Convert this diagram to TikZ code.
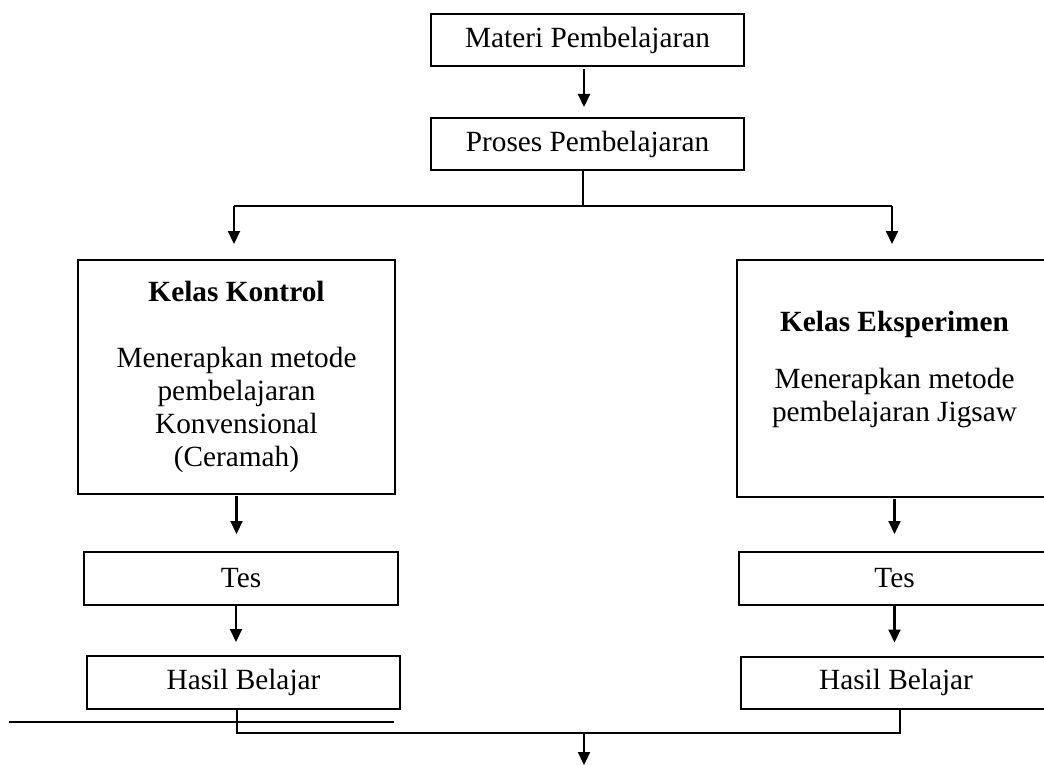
\documentclass[tikz,border=0pt]{standalone}
\usepackage{fontspec}
\setmainfont{Liberation Serif}
\usetikzlibrary{arrows.meta,calc}
\begin{document}
\begin{tikzpicture}[x=1pt,y=-1pt]
\tikzset{
  boxnode/.style={draw, line width=2pt, inner sep=0pt, align=center,
    font=\fontsize{29.3pt}{33pt}\selectfont},
  conn/.style={line width=1.1pt},
  arr/.style={line width=2.2pt, -{Triangle[length=13pt,width=12pt]}},
}
\useasboundingbox (0,0) rectangle (1044,765);
\clip (0,0) rectangle (1044,765);

% boxes
\node[boxnode, minimum width=313pt, minimum height=52pt] (materi) at (587.5,40) {Materi Pembelajaran};
\node[boxnode, minimum width=313pt, minimum height=52pt] (proses) at (587.5,144) {Proses Pembelajaran};
\node[boxnode, minimum width=317pt, minimum height=234pt] (kontrol) at (236.5,377)
  {\textbf{Kelas Kontrol}\\[33pt]Menerapkan metode\\pembelajaran\\Konvensional\\(Ceramah)};
\node[boxnode, minimum width=315pt, minimum height=237pt, text depth=23.5pt] (eksp) at (894.5,378.5)
  {\textbf{Kelas Eksperimen}\\[24pt]Menerapkan metode\\pembelajaran Jigsaw};
\node[boxnode, minimum width=314pt, minimum height=53pt] (tesL) at (241,578.5) {Tes};
\node[boxnode, minimum width=313pt, minimum height=53pt] (hasilL) at (243.5,682.5) {Hasil Belajar};
\node[boxnode, minimum width=311pt, minimum height=53pt] (tesR) at (894.5,578.5) {Tes};
\node[boxnode, minimum width=310pt, minimum height=52pt] (hasilR) at (896,682.5) {Hasil Belajar};

% coordinates
\coordinate (bus) at (583,206);
\coordinate (botbus) at (584,733);
\coordinate (outpt) at (584,765);
\coordinate (s1) at (9,722);
\coordinate (s2) at (394,722);
\path ([xshift=-2.5pt]kontrol.north) coordinate (kn)
      ([xshift=-2.5pt]eksp.north) coordinate (en)
      ([xshift=-4.5pt]proses.south) coordinate (ps)
      ([xshift=-3.5pt]materi.south) coordinate (ms)
      ([xshift=-5pt]tesL.south) coordinate (tls);

% connectors
\draw[arr, shorten <=2pt, shorten >=10pt] (ms) -- (ms |- proses.north);
\draw[conn] (ps) -- (bus);
\draw[conn] (kn |- bus) -- (en |- bus);
\draw[arr, shorten >=15pt] (kn |- bus) -- (kn);
\draw[arr, shorten >=15pt] (en |- bus) -- (en);
\draw[arr, shorten <=1pt, shorten >=17pt] (kontrol.south) -- (kontrol.south |- tesL.north);
\draw[arr, shorten >=13pt] (tls) -- (tls |- hasilL.north);
\draw[arr, shorten <=1pt, shorten >=17pt] (eksp.south) -- (eksp.south |- tesR.north);
\draw[arr, shorten >=13pt] (tesR.south) -- (tesR.south |- hasilR.north);
\draw[conn] ([xshift=-6.5pt]hasilL.south) |- (botbus) -| ([xshift=4pt]hasilR.south);
\draw[arr] (botbus) -- (outpt);
\draw[line width=2.2pt] (s1) -- (s2);
\end{tikzpicture}
\end{document}
